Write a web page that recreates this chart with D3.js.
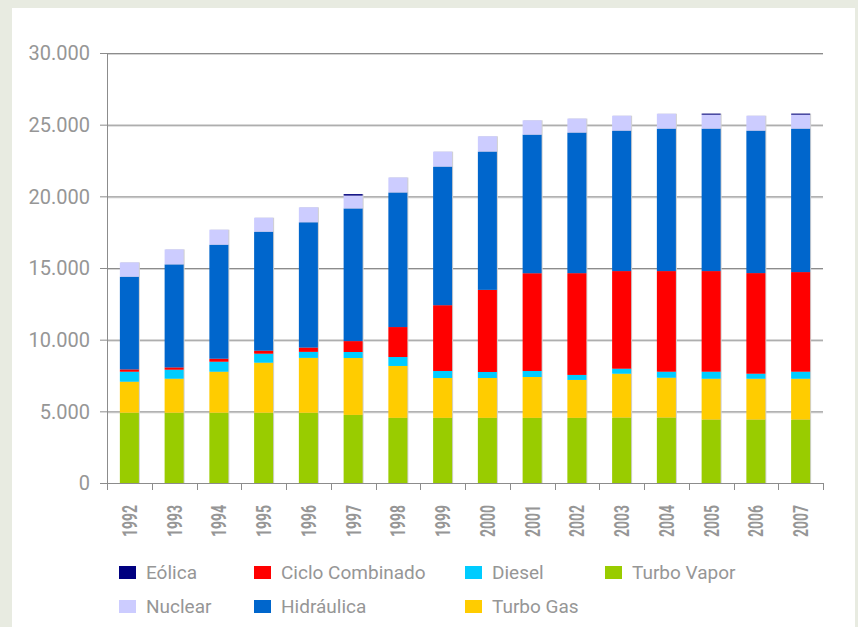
<!DOCTYPE html>
<html>
<head>
<meta charset="utf-8">
<script src="https://cdn.jsdelivr.net/npm/d3@7"></script>
<style>
  body { margin: 0; background: #e8ebe1; }
  svg { display: block; }
</style>
</head>
<body>
<div id="chart"></div>
<script>
const years = ["1992", "1993", "1994", "1995", "1996", "1997", "1998", "1999",
  "2000", "2001", "2002", "2003", "2004", "2005", "2006", "2007"]

// MW per year, stacked bottom to top
const turboVapor = [4905, 4905, 4905, 4905, 4900, 4750, 4545, 4545, 4545, 4545, 4545, 4565, 4565, 4425, 4425, 4425]
const turboGas = [2163, 2372, 2860, 3489, 3830, 3970, 3620, 2780, 2780, 2850, 2645, 3060, 2780, 2850, 2850, 2850]
const diesel = [697, 628, 698, 628, 420, 420, 625, 490, 420, 420, 350, 350, 420, 490, 350, 490]
const cicloCombinado = [161, 160, 209, 209, 300, 760, 2090, 4590, 5730, 6820, 7100, 6810, 7020, 7020, 7020, 6950]
const hidraulica = [6467, 7187, 7954, 8302, 8740, 9255, 9390, 9670, 9650, 9670, 9810, 9800, 9940, 9940, 9940, 10010]
const nuclear = [998, 1046, 1047, 977, 1045, 900, 1045, 1045, 1065, 1000, 975, 1040, 1040, 975, 1040, 975]
const eolica = [0, 0, 0, 0, 0, 100, 0, 0, 0, 0, 0, 0, 0, 70, 0, 70]

const yTicks = [0, 5000, 10000, 15000, 20000, 25000, 30000]

const series = [
  { key: "Turbo Vapor", values: turboVapor, color: "#99cc00" },
  { key: "Turbo Gas", values: turboGas, color: "#ffcc00" },
  { key: "Diesel", values: diesel, color: "#00ccff" },
  { key: "Ciclo Combinado", values: cicloCombinado, color: "#ff0000" },
  { key: "Hidráulica", values: hidraulica, color: "#0066cc" },
  { key: "Nuclear", values: nuclear, color: "#ccccff" },
  { key: "Eólica", values: eolica, color: "#000080" }
]

// legend order as in the picture: two rows, four columns
const legendOrder = ["Eólica", "Ciclo Combinado", "Diesel", "Turbo Vapor", "Nuclear", "Hidráulica", "Turbo Gas"]

const W = 858, H = 627
const plot = { left: 107, right: 823, top: 53, bottom: 483 }
const gray = "#969696"

drawChart()

function drawChart() {
  const svg = d3.select("#chart").append("svg").attr("width", W).attr("height", H)
  svg.append("rect").attr("x", 12).attr("y", 8).attr("width", 843).attr("height", H - 8).attr("fill", "#fff")

  const x = d3.scaleBand().domain(years).range([plot.left, plot.right]).paddingInner(0.575).paddingOuter(0.2875)
  const xb = d3.scaleBand().domain(years).range([plot.left, plot.right])
  const y = d3.scaleLinear().domain([0, 30000]).range([plot.bottom, plot.top])

  const table = years.map((yr, i) => {
    const row = { year: yr }
    series.forEach(s => row[s.key] = s.values[i])
    return row
  })
  const stacked = d3.stack().keys(series.map(s => s.key))(table)

  drawGrid()
  drawBars()
  drawAxes()
  drawLegend()

  function drawGrid() {
    const g = svg.append("g").attr("class", "grid")
    g.selectAll("line.shadow").data(yTicks.filter(t => t > 0)).enter().append("line")
      .attr("class", "shadow")
      .attr("x1", plot.left).attr("x2", plot.right)
      .attr("y1", d => y(d) + 1.5).attr("y2", d => y(d) + 1.5)
      .attr("stroke", "#d4d4d4").attr("stroke-width", 1)
    g.selectAll("line.main").data(yTicks).enter().append("line")
      .attr("class", "main")
      .attr("x1", plot.left - 7).attr("x2", plot.right)
      .attr("y1", d => y(d) + 0.5).attr("y2", d => y(d) + 0.5)
      .attr("stroke", "#8c8c8c").attr("stroke-width", 1)
  }

  function drawBars() {
    const layers = svg.append("g").attr("class", "bars")
      .selectAll("g").data(stacked).enter().append("g")
      .attr("fill", d => series.find(s => s.key === d.key).color)

    // faint shadow on the right side of each column
    svg.select(".bars").insert("g", ":first-child").selectAll("rect").data(table).enter().append("rect")
      .attr("x", d => x(d.year) + 1)
      .attr("y", d => y(d3.sum(series, s => d[s.key])))
      .attr("width", x.bandwidth())
      .attr("height", d => plot.bottom - y(d3.sum(series, s => d[s.key])))
      .attr("fill", "#d0d0d0")

    layers.selectAll("rect").data(d => d.filter(p => p[1] > p[0])).enter().append("rect")
      .attr("x", d => x(d.data.year))
      .attr("y", d => y(d[1]))
      .attr("width", x.bandwidth())
      .attr("height", d => y(d[0]) - y(d[1]))
  }

  function drawAxes() {
    const g = svg.append("g").attr("class", "axes")
    g.append("line").attr("x1", plot.left + 0.5).attr("x2", plot.left + 0.5)
      .attr("y1", plot.top).attr("y2", plot.bottom + 7).attr("stroke", "#8c8c8c")

    const edges = years.map(d => xb(d)).concat([plot.right])
    g.selectAll("line.tick").data(edges).enter().append("line").attr("class", "tick")
      .attr("x1", d => Math.round(d) + 0.5).attr("x2", d => Math.round(d) + 0.5)
      .attr("y1", plot.bottom).attr("y2", plot.bottom + 7).attr("stroke", "#8c8c8c")

    const fmt = d3.formatLocale({ decimal: ",", thousands: ".", grouping: [3], currency: ["", ""] }).format(",")
    g.selectAll("text.ylab").data(yTicks).enter().append("text").attr("class", "ylab")
      .attr("x", 90).attr("y", d => y(d)).attr("dy", "0.36em")
      .attr("text-anchor", "end")
      .style("font", "20px Roboto").attr("fill", gray)
      .text(d => fmt(d))

    g.selectAll("text.xlab").data(years).enter().append("text").attr("class", "xlab")
      .attr("transform", d => `translate(${xb(d) + xb.bandwidth() / 2}, 505) rotate(-90)`)
      .attr("dy", "0.36em")
      .attr("text-anchor", "end")
      .attr("textLength", 32).attr("lengthAdjust", "spacingAndGlyphs")
      .style("font", "bold 21px Roboto").attr("fill", gray)
      .text(d => d)
  }

  function drawLegend() {
    const cols = [119, 254, 465, 605], rows = [566, 600]
    const items = legendOrder.map((k, i) => ({ s: series.find(s => s.key === k), col: i % 4, row: Math.floor(i / 4) }))
    const item = svg.append("g").attr("class", "legend").selectAll("g").data(items).enter().append("g")
      .attr("transform", d => `translate(${cols[d.col]}, ${rows[d.row]})`)
    item.append("rect").attr("width", 17).attr("height", 13).attr("fill", d => d.s.color)
    item.append("text").attr("x", 27).attr("y", 6.5).attr("dy", "0.36em")
      .style("font", "19px Roboto").attr("fill", gray)
      .text(d => d.s.key)
  }
}
</script>
</body>
</html>
